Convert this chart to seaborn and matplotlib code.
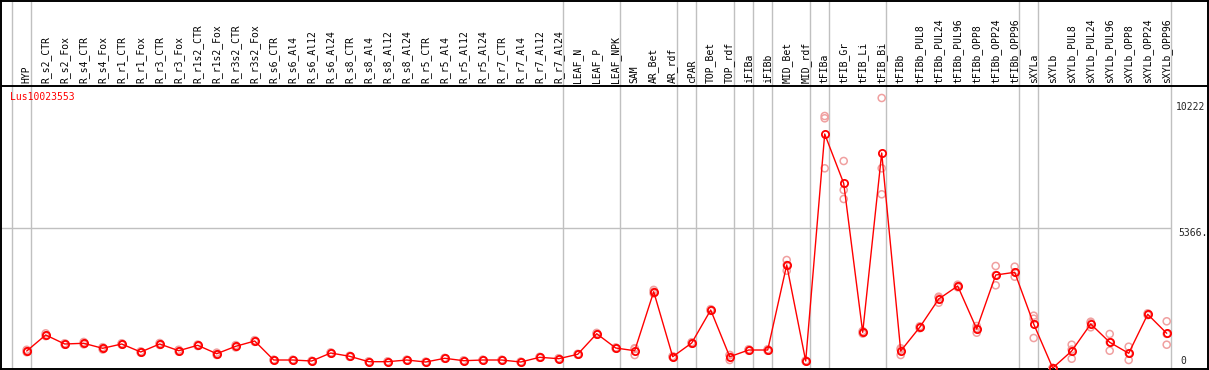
import matplotlib
matplotlib.use("Agg")
import matplotlib.pyplot as plt
import seaborn as sns
import pandas as pd

categories = ["HYP", "R_s2_CTR", "R_s2_Fox", "R_s4_CTR", "R_s4_Fox", "R_r1_CTR", "R_r1_Fox",
              "R_r3_CTR", "R_r3_Fox", "R_r1s2_CTR", "R_r1s2_Fox", "R_r3s2_CTR", "R_r3s2_Fox",
              "R_s6_CTR", "R_s6_Al4", "R_s6_Al12", "R_s6_Al24", "R_s8_CTR", "R_s8_Al4",
              "R_s8_Al12", "R_s8_Al24", "R_r5_CTR", "R_r5_Al4", "R_r5_Al12", "R_r5_Al24",
              "R_r7_CTR", "R_r7_Al4", "R_r7_Al12", "R_r7_Al24", "LEAF_N", "LEAF_P", "LEAF_NPK",
              "SAM", "AR_Bet", "AR_rdf", "cPAR", "TOP_Bet", "TOP_rdf", "iFIBa", "iFIBb",
              "MID_Bet", "MID_rdf", "tFIBa", "tFIB_Gr", "tFIB_Li", "tFIB_Bi", "tFIBb",
              "tFIBb_PUL8", "tFIBb_PUL24", "tFIBb_PUL96", "tFIBb_OPP8", "tFIBb_OPP24",
              "tFIBb_OPP96", "sXYLa", "sXYLb", "sXYLb_PUL8", "sXYLb_PUL24", "sXYLb_PUL96",
              "sXYLb_OPP8", "sXYLb_OPP24", "sXYLb_OPP96"]

means = [653, 1268, 922, 949, 757, 922, 615, 922, 664, 872, 549, 833, 1037,
         307, 307, 269, 576, 449, 242, 242, 307, 230, 373, 280, 307, 307, 230, 411, 357,
         526, 1317, 768, 664, 2931, 434, 960, 2228, 434, 691, 691, 3956, 269,
         8988, 7094, 1371, 8258, 653, 1563, 2650, 3150, 1498, 3572, 3676,
         1690, 0, 653, 1690, 987, 565, 2063, 1333]

rep1 = [700, 1330, 950, 1000, 800, 950, 640, 960, 700, 900, 590, 880, 1070,
        320, 320, 280, 600, 470, 255, 255, 320, 245, 390, 295, 320, 320, 245, 430, 375,
        545, 1350, 790, 760, 3000, 455, 990, 2260, 500, 720, 720, 4148, 290,
        9679, 7951, 1420, 10371, 757, 1600, 2739, 3200, 1613, 3918, 3891,
        2009, 0, 895, 1778, 1306, 818, 2100, 1794]
rep2 = [653, 1250, 922, 940, 760, 922, 615, 922, 664, 872, 540, 830, 1037,
        307, 307, 269, 576, 449, 242, 242, 307, 230, 373, 280, 307, 307, 230, 411, 357,
        526, 1317, 768, 733, 2931, 434, 960, 2228, 495, 691, 691, 3956, 269,
        9591, 6837, 1371, 7670, 703, 1563, 2703, 3150, 1525, 3572, 3676,
        1894, 0, 707, 1729, 991, 570, 2063, 1310]
rep3 = [606, 1224, 894, 907, 710, 894, 590, 884, 628, 844, 500, 790, 1004,
        294, 294, 258, 552, 428, 229, 229, 294, 215, 356, 265, 294, 294, 215, 392, 339,
        507, 1284, 746, 499, 2860, 413, 930, 2196, 307, 662, 662, 3737, 250,
        7670, 6491, 1322, 6672, 499, 1526, 2508, 3100, 1356, 3176, 3507,
        1152, 0, 357, 1563, 664, 307, 2030, 895]

group_ends = [-1, 0, 28, 31, 34, 35, 37, 38, 39, 41, 42, 45, 52, 53, 60]
title = "Lus10023553"
tick_vals = [10222, 5366, 0]
tick_texts = ["10222", "5366.", "0"]

sns.set_style("white")
plt.rcParams["font.family"] = ["DejaVu Sans Mono", "DejaVu Sans"]

x = list(range(len(categories)))
df = pd.DataFrame({"x": x, "mean": means})
reps = pd.DataFrame({"x": x * 3, "value": rep1 + rep2 + rep3})

W, H = 1209, 370
fig = plt.figure(figsize=(W / 100, H / 100), dpi=100)
ax = fig.add_axes([1 / W, 1 / H, 1207 / W, 368.5 / H])

px0, step = 26.7, 19.0
ypx0, ups = 368.0, 38.41
ax.set_xlim((1 - px0) / step, (1208 - px0) / step)
ax.set_ylim((ypx0 - 369) * ups, (ypx0 - 0.5) * ups)

grey = "#c0c0c0"
for g in group_ends:
    ax.axvline(g + 0.2, color=grey, lw=1.0, zorder=1)
ax.hlines(5366, (1 - px0) / step, 60.2, color=grey, lw=1.0, zorder=1)
header_y = (ypx0 - 85.7) * ups
ax.axhline(header_y, color="black", lw=1.4, zorder=2)

sns.scatterplot(data=reps, x="x", y="value", ax=ax, color="none",
                edgecolor="#f0a0a0", linewidth=1.1, s=26, zorder=3, legend=False)
sns.lineplot(data=df, x="x", y="mean", ax=ax, color="red", lw=1.0, zorder=4,
             marker="o", markersize=5.2, markerfacecolor="none",
             markeredgecolor="red", markeredgewidth=1.3)

label_y = (ypx0 - 83) * ups
for i, c in enumerate(categories):
    ax.text(i, label_y, c, rotation=90, ha="center", va="bottom", fontsize=7, color="black")

ax.text((10 - px0) / step, (ypx0 - 92) * ups, title, color="red", fontsize=7,
        ha="left", va="top")

ax.text((1176 - px0) / step, tick_vals[0], tick_texts[0], fontsize=7, ha="left", va="top")
ax.text((1178 - px0) / step, tick_vals[1], tick_texts[1], fontsize=7, ha="left", va="top")
ax.text((1180 - px0) / step, (ypx0 - 366) * ups, tick_texts[2], fontsize=7, ha="left", va="bottom")

ax.set_xticks([])
ax.set_yticks([])
ax.set_xlabel("")
ax.set_ylabel("")
for s in ax.spines.values():
    s.set_visible(True)
    s.set_color("black")
    s.set_linewidth(1.4)

fig.savefig("out.png", dpi=100)
